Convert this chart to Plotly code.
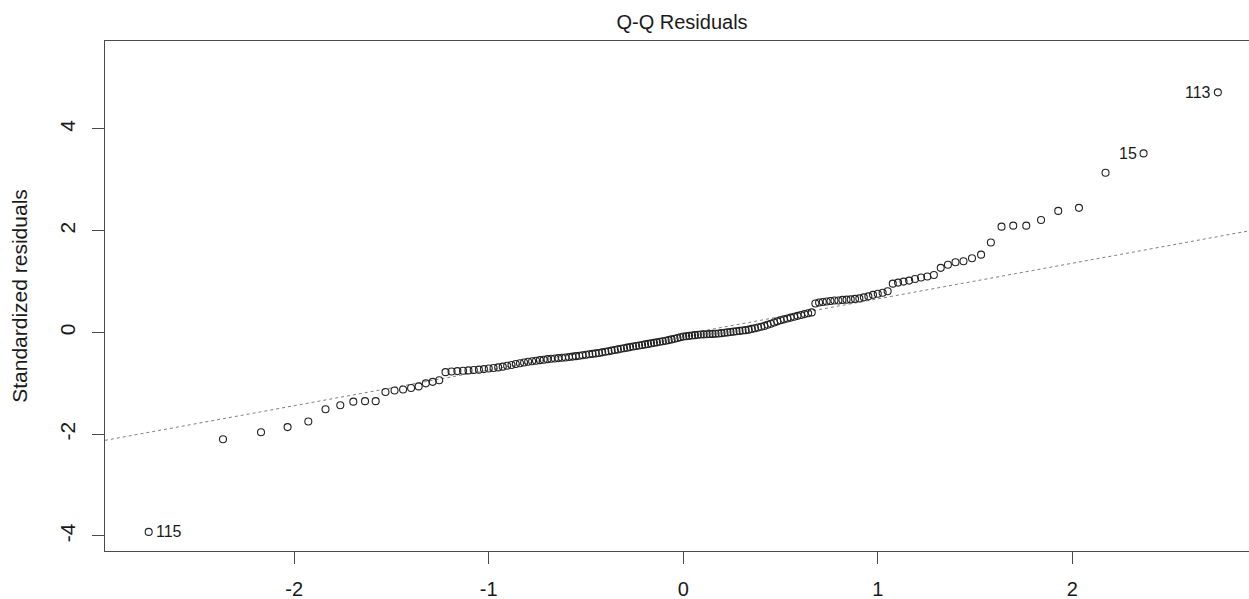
import plotly.graph_objects as go
from statistics import NormalDist

# Sorted standardized residuals
std_resid = [
    -3.92, -2.10, -1.96, -1.86, -1.75, -1.51, -1.43, -1.36, -1.35, -1.35,
    -1.17, -1.14, -1.12, -1.09, -1.06, -1.00, -0.97, -0.94, -0.78, -0.767,
    -0.759, -0.752, -0.745, -0.738, -0.731, -0.720, -0.709, -0.697, -0.686, -0.672,
    -0.654, -0.638, -0.621, -0.605, -0.590, -0.576, -0.565, -0.555, -0.544, -0.535,
    -0.524, -0.516, -0.510, -0.504, -0.498, -0.492, -0.483, -0.474, -0.465, -0.456,
    -0.447, -0.438, -0.429, -0.420, -0.411, -0.402, -0.391, -0.379, -0.368, -0.356,
    -0.344, -0.333, -0.321, -0.310, -0.298, -0.287, -0.276, -0.265, -0.255, -0.245,
    -0.234, -0.224, -0.214, -0.204, -0.194, -0.183, -0.173, -0.163, -0.150, -0.136,
    -0.122, -0.108, -0.094, -0.080, -0.073, -0.066, -0.059, -0.052, -0.045, -0.039,
    -0.037, -0.034, -0.031, -0.028, -0.026, -0.020, -0.013, -0.005, 0.002, 0.009,
    0.016, 0.024, 0.031, 0.038, 0.046, 0.056, 0.070, 0.084, 0.098, 0.112,
    0.129, 0.152, 0.173, 0.196, 0.219, 0.241, 0.258, 0.275, 0.292, 0.310,
    0.327, 0.344, 0.361, 0.379, 0.395, 0.57, 0.59, 0.60, 0.61, 0.62,
    0.63, 0.63, 0.64, 0.645, 0.65, 0.66, 0.67, 0.69, 0.71, 0.74,
    0.76, 0.78, 0.81, 0.96, 0.98, 1.00, 1.02, 1.05, 1.08, 1.10,
    1.13, 1.27, 1.33, 1.38, 1.40, 1.46, 1.53, 1.77, 2.08, 2.10,
    2.10, 2.21, 2.39, 2.45, 3.14, 3.52, 4.72,
]

# Labelled observations: (rank in sorted order, observation id, side of label)
point_labels = [(0, "115", "right"), (165, "15", "left"), (166, "113", "left")]

# Reference (qq) line
qqline_slope = 0.700
qqline_intercept = -0.039

x_ticks = [-2, -1, 0, 1, 2]
y_ticks = [-4, -2, 0, 2, 4]
x_range = [-2.973, 2.9085]
y_range = [-4.295, 5.729]

title_text = "Q-Q Residuals"
y_title = "Standardized residuals"

# Theoretical quantiles (R's ppoints for n > 10)
n = len(std_resid)
nd = NormalDist()
theoretical = [nd.inv_cdf((i + 0.5) / n) for i in range(n)]

FONT = "Liberation Sans, Arial, sans-serif"
TXT = "#1a1a1a"
AX = "#4a4a4a"

fig = go.Figure()

line_x = list(x_range)
line_y = [qqline_intercept + qqline_slope * v for v in line_x]
fig.add_trace(go.Scatter(
    x=line_x, y=line_y, mode="lines",
    line=dict(color="#808080", width=1, dash="3px,3px"),
    hoverinfo="skip", showlegend=False,
))

fig.add_trace(go.Scatter(
    x=theoretical, y=std_resid, mode="markers",
    marker=dict(symbol="circle-open", size=7, color="#222222",
                line=dict(width=1.1, color="#222222")),
    showlegend=False, cliponaxis=False,
))

for rank, lab, side in point_labels:
    fig.add_annotation(
        x=theoretical[rank], y=std_resid[rank], text=lab, showarrow=False,
        xanchor="left" if side == "right" else "right",
        xshift=5 if side == "right" else -5, yanchor="middle",
        font=dict(family=FONT, size=16, color=TXT),
    )

fig.update_layout(
    width=1249, height=599,
    margin=dict(l=105, r=0, t=41, b=48, pad=0, autoexpand=False),
    paper_bgcolor="white", plot_bgcolor="white",
    font=dict(family=FONT, color=TXT),
    title=dict(text=title_text, x=682 / 1249, xanchor="center",
               y=1 - 22 / 599, yanchor="middle", yref="container",
               font=dict(family=FONT, size=20, color=TXT)),
    showlegend=False,
)

fig.update_xaxes(
    range=x_range, tickvals=x_ticks, ticktext=[str(v) for v in x_ticks],
    showgrid=False, zeroline=False, automargin=False,
    showline=True, mirror=True, linecolor=AX, linewidth=1.4,
    ticks="outside", ticklen=12, tickwidth=1.4, tickcolor=AX,
    tickfont=dict(family=FONT, size=20, color=TXT),
    ticklabelstandoff=8,
)
fig.update_yaxes(
    range=y_range, tickvals=y_ticks, ticktext=[str(v) for v in y_ticks],
    showgrid=False, zeroline=False, automargin=False,
    showline=True, mirror=False, linecolor=AX, linewidth=1.4,
    ticks="outside", ticklen=12, tickwidth=1.4, tickcolor=AX,
    tickangle=-90,
    tickfont=dict(family=FONT, size=21, color=TXT),
    ticklabelstandoff=8,
    title=dict(text=y_title, standoff=23, font=dict(family=FONT, size=21, color=TXT)),
)

fig.write_html(
    "out.html",
    config={"displayModeBar": False},
    post_script="document.body.style.margin='0px';document.body.style.overflow='hidden';",
)
